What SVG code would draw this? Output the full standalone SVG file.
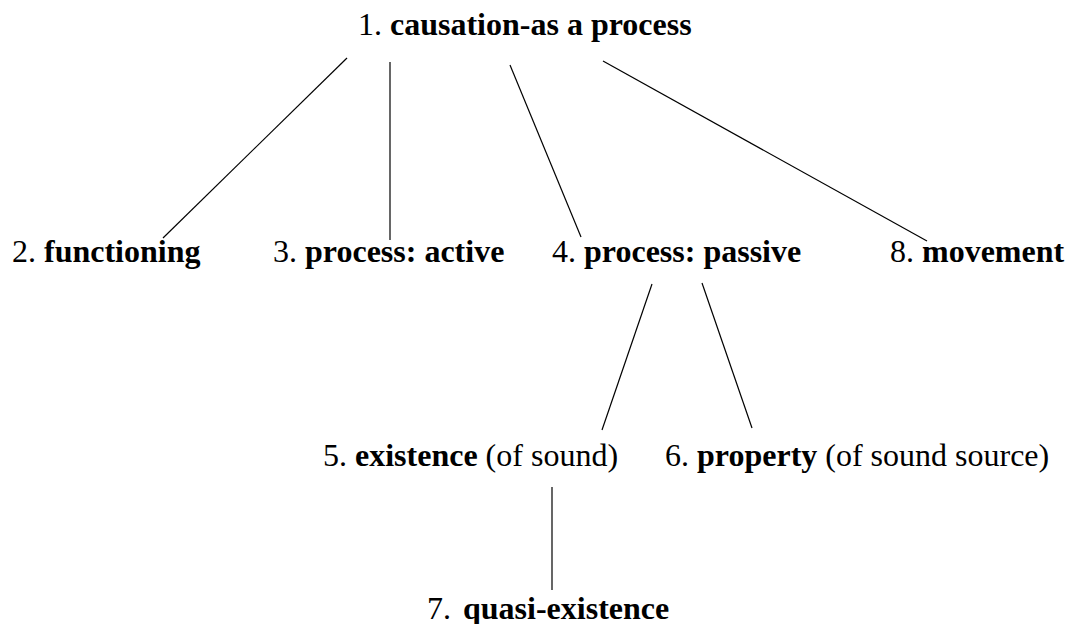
<svg xmlns="http://www.w3.org/2000/svg" width="1069" height="624" viewBox="0 0 1069 624">
<style>
.t text{font-size:32px;fill:#000}
.b{font-weight:bold}
.c line{stroke:#000;stroke-width:1.2}
</style>
<rect width="1069" height="624" fill="#fff"/>
<g class="c" id="connectors">
<line x1="347" y1="58" x2="163" y2="238"/>
<line x1="390" y1="62" x2="390" y2="240"/>
<line x1="510" y1="65" x2="581" y2="237"/>
<line x1="603" y1="61" x2="927" y2="241"/>
<line x1="652" y1="284" x2="602" y2="430"/>
<line x1="702" y1="283" x2="752" y2="428"/>
<line x1="552" y1="487" x2="552" y2="590"/>
</g>
<g class="t" font-family="Liberation Serif, Times New Roman, serif">
<g id="n1"><text x="358" y="35">1. <tspan class="b">causation-as a process</tspan></text></g>
<g id="n2"><text x="12" y="262">2. <tspan class="b">functioning</tspan></text></g>
<g id="n3"><text x="273" y="262">3. <tspan class="b">process: active</tspan></text></g>
<g id="n4"><text x="552" y="262">4. <tspan class="b">process: passive</tspan></text></g>
<g id="n8"><text x="890" y="262">8. <tspan class="b">movement</tspan></text></g>
<g id="n5"><text x="323" y="466">5. <tspan class="b">existence</tspan> (of sound)</text></g>
<g id="n6"><text x="665" y="466">6. <tspan class="b">property</tspan> (of sound source)</text></g>
<g id="n7"><text x="427" y="619">7. <tspan class="b" x="463">quasi-existence</tspan></text></g>
</g>
</svg>
